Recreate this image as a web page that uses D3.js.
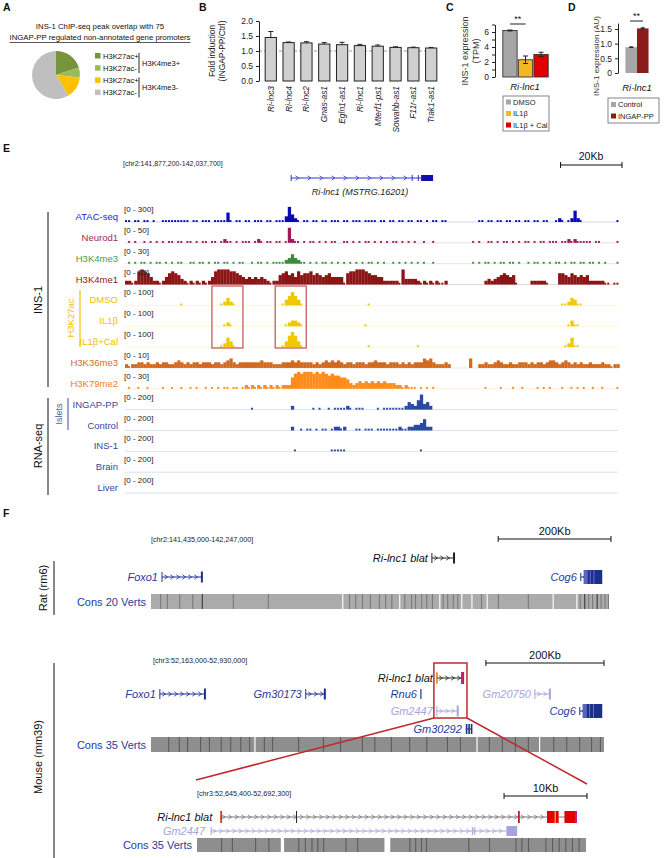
<!DOCTYPE html>
<html>
<head>
<meta charset="utf-8">
<script src="https://cdn.jsdelivr.net/npm/d3@7"></script>
<style>
  body { margin: 0; background: #fff; }
  svg { display: block; font-family: "Liberation Sans", Arial, sans-serif; }
</style>
</head>
<body>
<svg id="fig" width="664" height="858"></svg>
<script>
// ---------- data ----------
// A: promoter overlap (counts out of 75)
const pieClasses = ['H3K27ac+', 'H3K27ac-', 'H3K27ac+', 'H3K27ac-'];
const pieGroups = ['H3K4me3+', 'H3K4me3-'];
const pieCounts = [15, 5, 11, 44];

// B: fold induction
const genesB = ['Ri-lnc3', 'Ri-lnc4', 'Ri-lnc2', 'Gnas-as1', 'Egln1-as1', 'Ri-lnc1', 'Mterf1-ps1', 'Sowahb-as1', 'F11r-as1', 'Trak1-as1'];
const foldB = [1.45, 1.28, 1.27, 1.23, 1.21, 1.18, 1.16, 1.12, 1.11, 1.10];
const errB = [0.20, 0.02, 0.04, 0.05, 0.08, 0.04, 0.04, 0.02, 0.02, 0.02];

// C: TPM
const groupsC = ['DMSO', 'IL1β', 'IL1β + Cal'];
const tpmC = [6.2, 2.3, 3.0];
const errC = [0.06, 0.5, 0.3];

// D: AU
const groupsD = ['Control', 'INGAP-PP'];
const auD = [0.88, 1.52];
const errD = [0.01, 0.02];

// E: browser tracks, one digit per 1 kb bin (0-9 of track range)
const trackNames = ['ATAC-seq', 'Neurod1', 'H3K4me3', 'H3K4me1', 'DMSO', 'IL1β', 'IL1β+Cal', 'H3K36me3', 'H3K79me2', 'INGAP-PP', 'Control', 'INS-1', 'Brain', 'Liver'];
const trackMax = [300, 50, 30, 15, 100, 100, 100, 10, 30, 200, 200, 200, 200, 200];
const trackSignal = [
  '1101101101 0011111111 1011011101 1115101101 1011101101 1138421011 0110110111 0110111011 1101101101 1011011010 1101100000 0000011011 0110110110 1101101100 1210126210 00000000001',
  '0101001010 1010110110 1101011011 0121101011 1012101101 1018211010 1101010110 0110101011 0101010110 1010100100 1000000000 0001010011 0101101010 1101011011 1011212111 11011000001',
  '0101011010 1101010110 0110110101 1011010110 0101101011 1123532110 1010110101 0101010101 1010100101 0101010100 1000000000 0001010110 1011011010 0101101010 1101011011 01101010001',
  '2212787642 2124676532 1212121247 8888776543 4343432122 5675647566 7565456444 4167788876 5544222221 8333321212 1211200000 0000000232 3456545100 0022222100 0665465454 52222211011',
  '0000000000 0000000010 0000000000 0124210000 0000000000 0135753100 0000000000 0000000001 0000000000 0000000000 0000000000 0000000000 0000000000 0000000000 0011243110',
  '0000000000 0000000000 0000000000 0012100000 0000000000 0012332100 0000000000 0000000010 0000000000 0000000000 0000000000 0000000000 0000000000 0000000000 0000131100',
  '0000000000 0000000000 0000000000 0125310000 0000000000 0136863100 0000000000 0000000001 0000000000 0000010000 0000000000 0000000000 0000000000 0000000000 0001251100',
  '2122332322 3233223432 3233233323 3234532333 3333433322 2333434333 3232343434 3233233323 3433323332 3232333545 3222320000 0050022322 3432232233 3232332344 3234323232 23222322122',
  '0100100100 0010010010 0101001010 1011011012 1212121212 1222689899 9898987877 6653234343 4343433322 1211101010 1000000000 0000000100 0010001001 0000101010 0010010101 00100100001',
  '0000000000 0000000000 0000000000 0000000000 0100000000 0000200000 0101001011 1121011100 0010111111 1243258342',
  '0000000000 0000000000 0000000000 0000000000 0000000000 0000200101 1010110122 1200011011 1011111112 1122334622',
  '0000000000 0000000000 0000000000 0000000000 0000000000 0000010000 0000000111 1100000000 0000000000 0000001000',
  '',
  ''
];
const highlightKb = [[28.3, 38.4], [48.9, 59]];

// F: genes in kb from region start
const ratGenes = [
  {name: 'Ri-lnc1 blat', start: 498, end: 539, strand: 1, lane: 0, kind: 'blat'},
  {name: 'Foxo1', start: 19.5, end: 92, strand: 1, lane: 1, kind: 'ref'},
  {name: 'Cog6', start: 762, end: 800, strand: -1, lane: 1, kind: 'ref'}
];
const mouseGenes = [
  {name: 'Ri-lnc1 blat', start: 484, end: 530, strand: 1, lane: 0, kind: 'blat'},
  {name: 'Foxo1', start: 15, end: 93, strand: 1, lane: 1, kind: 'ref'},
  {name: 'Gm30173', start: 262, end: 296, strand: 1, lane: 1, kind: 'ref'},
  {name: 'Rnu6', start: 457, end: 458, strand: 1, lane: 1, kind: 'ref'},
  {name: 'Gm20750', start: 650, end: 677, strand: 1, lane: 1, kind: 'pred'},
  {name: 'Gm2447', start: 484, end: 521, strand: 1, lane: 2, kind: 'pred'},
  {name: 'Cog6', start: 726, end: 764, strand: -1, lane: 2, kind: 'ref'},
  {name: 'Gm30292', start: 533, end: 543, strand: 1, lane: 3, kind: 'ref'}
];
const ratConsGaps = [340, 441, 512, 551, 569, 596, 713, 755];
const ratConsMarks = [16, 28, 50, 73, 90, 145, 207, 351, 362, 374, 388, 404, 415, 426, 449, 461, 468, 479, 488, 498, 517, 525, 535, 543, 585, 615, 668, 760, 768, 775, 782, 790, 797, 804, 810];
const ratConsDark = [90, 768, 790];
const mouseConsGaps = [176, 552, 658];
const mouseConsMarks = [29, 47, 61, 83, 98, 118, 134, 151, 166, 191, 205, 249, 291, 320, 357, 378, 406, 437, 466, 501, 523, 572, 594, 616, 638, 681, 703, 725, 745, 760];
const zoomConsGaps = [[10.1, 10.5], [22.6, 23.3]];
const zoomConsMarks = [2.9, 4.2, 7, 8.6, 12.2, 13, 13.8, 14.5, 15.2, 17.9, 19.3, 25.6, 26.3, 27, 27.6, 32.7, 35.2, 38.4, 39.1, 39.9, 42, 42.8, 43.6, 44.4, 45.2, 46];

// ---------- helpers ----------
const svg = d3.select('#fig');

function txt(g, x, y, s, o = {}) {
  return g.append('text')
    .attr('x', x).attr('y', y)
    .attr('font-size', o.size || 9)
    .attr('text-anchor', o.anchor || 'start')
    .attr('fill', o.color || '#111')
    .attr('font-style', o.italic ? 'italic' : null)
    .attr('font-weight', o.bold ? 'bold' : null)
    .text(s);
}
function vtxt(g, x, y, s, o = {}) {
  return g.append('text')
    .attr('transform', `translate(${x},${y}) rotate(-90)`)
    .attr('font-size', o.size || 9)
    .attr('text-anchor', o.anchor || 'middle')
    .attr('fill', o.color || '#111')
    .attr('font-style', o.italic ? 'italic' : null)
    .text(s);
}
function styleAxis(a, size) {
  a.selectAll('text').attr('font-size', size).attr('fill', '#222');
  a.selectAll('line,path').attr('stroke', '#222');
}
function chevrons(g, x1, x2, y, dir, color, step) {
  for (let x = x1 + step / 2; x < x2 - 1; x += step) {
    const d = dir * 1.6;
    g.append('path')
      .attr('d', `M${x - d},${y - 2.2}L${x + d},${y}L${x - d},${y + 2.2}`)
      .attr('fill', 'none').attr('stroke', color).attr('stroke-width', 0.8);
  }
}

// panel letters
[['A', 3, 11], ['B', 199, 11], ['C', 446, 11], ['D', 568, 11], ['E', 3, 152], ['F', 3, 517]]
  .forEach(([l, x, y]) => txt(svg, x, y, l, {size: 10.5, bold: true}));

// ---------- A ----------
const gA = svg.append('g');
txt(gA, 100, 29, 'INS-1 ChIP-seq peak overlap with 75', {size: 7.8, anchor: 'middle'});
const t2 = txt(gA, 100, 40, 'INGAP-PP regulated non-annotated gene promoters', {size: 7.8, anchor: 'middle'});
const tw = t2.node().getComputedTextLength();
gA.append('line').attr('x1', 100 - tw / 2).attr('x2', 100 + tw / 2).attr('y1', 42.5).attr('y2', 42.5)
  .attr('stroke', '#111').attr('stroke-width', 0.7);

const pieColors = ['#77933c', '#9bbb59', '#ffc000', '#bfbfbf'];
const arcs = d3.pie().sort(null)(pieCounts);
gA.append('g').attr('transform', 'translate(56,75)')
  .selectAll('path').data(arcs).join('path')
  .attr('d', d3.arc().innerRadius(0).outerRadius(24))
  .attr('fill', (d, i) => pieColors[i]);

pieClasses.forEach((c, i) => {
  const y = 56 + i * 12.2;
  gA.append('rect').attr('x', 95).attr('y', y - 3).attr('width', 5.5).attr('height', 5.5).attr('fill', pieColors[i]);
  txt(gA, 103, y + 2.8, c, {size: 7.6});
});
pieGroups.forEach((gname, i) => {
  const y0 = 53 + i * 24.4;
  gA.append('line').attr('x1', 139).attr('x2', 139).attr('y1', y0).attr('y2', y0 + 20)
    .attr('stroke', '#111').attr('stroke-width', 0.9);
  txt(gA, 142, y0 + 12.5, gname, {size: 7.6});
});

// ---------- B ----------
const gB = svg.append('g');
const xB = d3.scaleBand().domain(genesB).range([262.5, 439.5]).paddingInner(0.37).paddingOuter(0.15);
const yB = d3.scaleLinear().domain([0, 2]).range([81, 21]);
gB.append('line').attr('x1', 259).attr('x2', 439).attr('y1', yB(1)).attr('y2', yB(1))
  .attr('stroke', '#9a9a9a').attr('stroke-dasharray', '3,2');
gB.selectAll('rect.bar').data(genesB).join('rect')
  .attr('x', d => xB(d)).attr('width', xB.bandwidth())
  .attr('y', (d, i) => yB(foldB[i])).attr('height', (d, i) => yB(0) - yB(foldB[i]))
  .attr('fill', '#d0d0d0').attr('stroke', '#222').attr('stroke-width', 1);
genesB.forEach((d, i) => {
  const cx = xB(d) + xB.bandwidth() / 2;
  gB.append('line').attr('x1', cx).attr('x2', cx).attr('y1', yB(foldB[i])).attr('y2', yB(foldB[i] + errB[i])).attr('stroke', '#222');
  gB.append('line').attr('x1', cx - 2.5).attr('x2', cx + 2.5).attr('y1', yB(foldB[i] + errB[i])).attr('y2', yB(foldB[i] + errB[i])).attr('stroke', '#222');
  gB.append('text').attr('transform', `translate(${cx + 3},86) rotate(-90)`)
    .attr('text-anchor', 'end').attr('font-size', 8.4).attr('font-style', 'italic').attr('fill', '#222').text(d);
});
const axB = gB.append('g').attr('transform', 'translate(259,0)')
  .call(d3.axisLeft(yB).tickValues([0, 0.5, 1, 1.5, 2]).tickFormat(d3.format('.1f')).tickSize(3).tickSizeOuter(0));
styleAxis(axB, 8.5);
vtxt(gB, 215, 51, 'Fold induction', {size: 8.4});
vtxt(gB, 225, 51, '(INGAP-PP/Ctrl)', {size: 8.4});

// ---------- C ----------
const gC = svg.append('g');
const xC = d3.scaleBand().domain(groupsC).range([502.5, 548.5]).paddingInner(0.08).paddingOuter(0.02);
const yC = d3.scaleLinear().domain([0, 7]).range([77, 24.5]);
const colC = ['#a6a6a6', '#f2b824', '#e00000'];
gC.selectAll('rect.bar').data(groupsC).join('rect')
  .attr('x', d => xC(d)).attr('width', xC.bandwidth())
  .attr('y', (d, i) => yC(tpmC[i])).attr('height', (d, i) => yC(0) - yC(tpmC[i]))
  .attr('fill', (d, i) => colC[i]).attr('stroke', '#333').attr('stroke-width', 0.9);
groupsC.forEach((d, i) => {
  const cx = xC(d) + xC.bandwidth() / 2;
  const lo = yC(tpmC[i] - errC[i]), hi = yC(tpmC[i] + errC[i]);
  gC.append('line').attr('x1', cx).attr('x2', cx).attr('y1', lo).attr('y2', hi).attr('stroke', '#222');
  [lo, hi].forEach(y => gC.append('line').attr('x1', cx - 2.5).attr('x2', cx + 2.5).attr('y1', y).attr('y2', y).attr('stroke', '#222'));
});
const axC = gC.append('g').attr('transform', 'translate(495,0)')
  .call(d3.axisLeft(yC).tickValues(d3.range(0, 8)).tickFormat(d => d % 2 === 0 ? d : '').tickSize(3).tickSizeOuter(0));
styleAxis(axC, 8.5);
const sigC = [xC(groupsC[0]) + xC.bandwidth() / 2, xC(groupsC[1]) + xC.bandwidth() / 2];
gC.append('line').attr('x1', sigC[0]).attr('x2', sigC[1]).attr('y1', 24).attr('y2', 24).attr('stroke', '#222');
txt(gC, (sigC[0] + sigC[1]) / 2, 22, '**', {size: 9, anchor: 'middle'});
txt(gC, 525, 90, 'Ri-lnc1', {size: 9.5, italic: true, anchor: 'middle'});
vtxt(gC, 468, 51, 'INS-1 expression', {size: 9, color: '#333'});
vtxt(gC, 479, 51, '(TPM)', {size: 9, color: '#333'});
gC.append('rect').attr('x', 503).attr('y', 96).attr('width', 46).attr('height', 35)
  .attr('fill', '#fff').attr('stroke', '#666').attr('stroke-width', 0.8);
groupsC.forEach((d, i) => {
  const y = 102 + i * 11.5;
  gC.append('rect').attr('x', 506).attr('y', y - 2.5).attr('width', 5).attr('height', 5).attr('fill', colC[i]);
  txt(gC, 513, y + 2.7, d, {size: 7.5, color: '#222'});
});

// ---------- D ----------
const gD = svg.append('g');
const xD = d3.scaleBand().domain(groupsD).range([625, 649]).paddingInner(0).paddingOuter(0.04);
const yD = d3.scaleLinear().domain([0, 1.7]).range([73, 23.1]);
const colD = ['#a6a6a6', '#8b1c1c'];
gD.selectAll('rect.bar').data(groupsD).join('rect')
  .attr('x', d => xD(d)).attr('width', xD.bandwidth())
  .attr('y', (d, i) => yD(auD[i])).attr('height', (d, i) => yD(0) - yD(auD[i]))
  .attr('fill', (d, i) => colD[i]);
groupsD.forEach((d, i) => {
  const cx = xD(d) + xD.bandwidth() / 2;
  const lo = yD(auD[i] - errD[i]), hi = yD(auD[i] + errD[i]);
  gD.append('line').attr('x1', cx).attr('x2', cx).attr('y1', lo).attr('y2', hi).attr('stroke', '#222');
  [lo, hi].forEach(y => gD.append('line').attr('x1', cx - 2).attr('x2', cx + 2).attr('y1', y).attr('y2', y).attr('stroke', '#222'));
});
const axD = gD.append('g').attr('transform', 'translate(618,0)')
  .call(d3.axisLeft(yD).tickValues([0, 0.5, 1, 1.5]).tickFormat(d => d === 0 ? '0' : d3.format('.1f')(d)).tickSize(3).tickSizeOuter(0));
styleAxis(axD, 8.5);
gD.append('line').attr('x1', 630).attr('x2', 643).attr('y1', 21).attr('y2', 21).attr('stroke', '#222');
txt(gD, 636.5, 19, '**', {size: 9, anchor: 'middle'});
txt(gD, 637, 91, 'Ri-lnc1', {size: 9.5, italic: true, anchor: 'middle'});
vtxt(gD, 599, 56, 'INS-1 expression (AU)', {size: 8, color: '#333'});
gD.append('rect').attr('x', 608).attr('y', 98).attr('width', 51).attr('height', 25)
  .attr('fill', '#fff').attr('stroke', '#666').attr('stroke-width', 0.8);
groupsD.forEach((d, i) => {
  const y = 104.5 + i * 11.5;
  gD.append('rect').attr('x', 611).attr('y', y - 2.5).attr('width', 5).attr('height', 5).attr('fill', colD[i]);
  txt(gD, 618, y + 2.7, d, {size: 7.5, color: '#222'});
});

// ---------- E ----------
const gE = svg.append('g');
const xE = d3.scaleLinear().domain([0, 160.5]).range([125, 618]);
txt(gE, 123, 166, '[chr2:141,877,200-142,037,700]', {size: 7, color: '#222'});
txt(gE, 591, 160, '20Kb', {size: 10.5, anchor: 'middle', color: '#111'});
{
  const x2 = 622, x1 = x2 - (xE(20) - xE(0));
  gE.append('line').attr('x1', x1).attr('x2', x2).attr('y1', 165).attr('y2', 165).attr('stroke', '#111').attr('stroke-width', 1.2);
  [x1, x2].forEach(x => gE.append('line').attr('x1', x).attr('x2', x).attr('y1', 162).attr('y2', 168).attr('stroke', '#111'));
}
// gene model
{
  const c = '#3232c8', y = 178;
  gE.append('line').attr('x1', xE(54.1)).attr('x2', xE(96.4)).attr('y1', y).attr('y2', y).attr('stroke', c);
  chevrons(gE, xE(54.1), xE(93.5), y, 1, c, 12);
  [54.1, 93.5, 95.5].forEach(k => gE.append('line').attr('x1', xE(k)).attr('x2', xE(k)).attr('y1', y - 3).attr('y2', y + 3).attr('stroke', c));
  gE.append('rect').attr('x', xE(96.4)).attr('y', y - 3).attr('width', xE(100.3) - xE(96.4)).attr('height', 6).attr('fill', '#1010b0');
  txt(gE, 360, 195, 'Ri-lnc1 (MSTRG.16201)', {size: 9, italic: true, anchor: 'middle', color: '#222'});
}

const trackColors = ['#0a0ab4', '#a0195a', '#3c8c3c', '#8c1414', '#f0c800', '#f0c800', '#f0c800', '#d2691e', '#ff8c1a', '#2a4aa0', '#2a4aa0', '#2a4aa0', '#2a4aa0', '#2a4aa0'];
const labelColors = ['#2424c8', '#a02a62', '#4a9a4a', '#8c1a1a', '#f0c000', '#f0c000', '#f0c000', '#d86a20', '#f08020', '#3348a0', '#3348a0', '#3348a0', '#3348a0', '#3348a0'];
const trackGap = 20.85, firstBase = 222, trackH = 17;

trackNames.forEach((name, ti) => {
  const base = firstBase + ti * trackGap;
  const yT = d3.scaleLinear().domain([0, trackMax[ti]]).range([0, trackH]);
  const bins = trackSignal[ti].replace(/ /g, '').padEnd(161, '0').split('').map(ch => +ch / 9 * trackMax[ti]);
  const g = gE.append('g');
  g.append('line').attr('x1', xE(0)).attr('x2', xE(160.5)).attr('y1', base).attr('y2', base)
    .attr('stroke', trackColors[ti]).attr('stroke-opacity', 0.22).attr('stroke-width', 0.8);
  g.selectAll('rect').data(bins.map((v, k) => ({v, k})).filter(d => d.v > 0)).join('rect')
    .attr('x', d => xE(d.k))
    .attr('width', d => d.v < trackMax[ti] * 0.15 ? 2 : xE(d.k + 1) - xE(d.k) + 0.2)
    .attr('y', d => base - Math.max(yT(d.v), 1.4))
    .attr('height', d => Math.max(yT(d.v), 1.4))
    .attr('fill', trackColors[ti]);
  txt(g, 118, base - 2, name, {size: 9.5, anchor: 'end', color: labelColors[ti]});
  txt(g, 124, base - 10, `[0 - ${trackMax[ti]}]`, {size: 8, color: '#222'});
});

// highlight boxes over the H3K27ac tracks
highlightKb.forEach(([a, b]) => {
  gE.append('rect').attr('x', xE(a)).attr('y', 286).attr('width', xE(b) - xE(a)).attr('height', 62)
    .attr('fill', 'none').attr('stroke', '#c0504d').attr('stroke-width', 1.2);
});

// group labels
gE.append('line').attr('x1', 48).attr('x2', 48).attr('y1', 212).attr('y2', 387).attr('stroke', '#111');
vtxt(gE, 42, 300, 'INS-1', {size: 11});
gE.append('line').attr('x1', 80).attr('x2', 80).attr('y1', 290).attr('y2', 347).attr('stroke', '#f0c000').attr('stroke-width', 1.2);
vtxt(gE, 74, 318, 'H3K27ac', {size: 9.5, color: '#f0c000'});
gE.append('line').attr('x1', 48).attr('x2', 48).attr('y1', 398).attr('y2', 495).attr('stroke', '#111');
vtxt(gE, 42, 446, 'RNA-seq', {size: 11});
gE.append('line').attr('x1', 68).attr('x2', 68).attr('y1', 398).attr('y2', 430).attr('stroke', '#5a6ab0').attr('stroke-width', 1.2);
vtxt(gE, 62, 414, 'Islets', {size: 9, color: '#4458aa'});

// ---------- F ----------
const gF = svg.append('g');
const blue = '#1c2f8f', pale = '#a5a5dc';

function scaleBar(g, x2, y, len, label) {
  const x1 = x2 - len;
  g.append('line').attr('x1', x1).attr('x2', x2).attr('y1', y).attr('y2', y).attr('stroke', '#111').attr('stroke-width', 1.2);
  [x1, x2].forEach(x => g.append('line').attr('x1', x).attr('x2', x).attr('y1', y - 3).attr('y2', y + 3).attr('stroke', '#111'));
  txt(g, (x1 + x2) / 2, y - 4, label, {size: 11, anchor: 'middle'});
}

function drawGene(g, sx, d, y) {
  const color = d.kind === 'blat' ? '#222' : d.kind === 'pred' ? pale : blue;
  const labelColor = d.kind === 'blat' ? '#111' : d.kind === 'pred' ? pale : '#1f3aa0';
  const x1 = sx(d.start), x2 = sx(d.end);
  if (x2 - x1 > 3) {
    g.append('line').attr('x1', x1).attr('x2', x2).attr('y1', y).attr('y2', y).attr('stroke', color);
    chevrons(g, x1 + 1, x2 - (d.name === 'Cog6' ? 12 : 2), y, d.strand, color, 6);
  }
  if (d.name === 'Cog6') {
    const bx = x1 + 3;
    g.append('rect').attr('x', bx).attr('y', y - 7).attr('width', x2 - bx).attr('height', 14).attr('fill', blue);
    g.append('rect').attr('x', bx).attr('y', y - 7).attr('width', 4).attr('height', 14).attr('fill', '#5566bb');
    [0.35, 0.55].forEach(f => g.append('line').attr('x1', bx + f * (x2 - bx)).attr('x2', bx + f * (x2 - bx))
      .attr('y1', y - 7).attr('y2', y + 7).attr('stroke', '#8090d0').attr('stroke-width', 0.7));
    g.append('line').attr('x1', x1).attr('x2', x1).attr('y1', y - 4).attr('y2', y + 4).attr('stroke', blue);
  } else if (d.name === 'Gm30292') {
    [0, 2.5, 5].forEach(o => g.append('rect').attr('x', x1 + o).attr('y', y - 5).attr('width', 1.6).attr('height', 10).attr('fill', blue));
  } else if (d.name === 'Rnu6') {
    g.append('line').attr('x1', x1).attr('x2', x1).attr('y1', y - 5).attr('y2', y + 5).attr('stroke', blue).attr('stroke-width', 1.2);
  } else {
    g.append('line').attr('x1', x1).attr('x2', x1).attr('y1', y - 5).attr('y2', y + 5).attr('stroke', color).attr('stroke-width', 1);
    g.append('rect').attr('x', x2 - 2).attr('y', y - 5.5).attr('width', 2).attr('height', 11).attr('fill', color);
  }
  txt(g, x1 - 4, y + 4, d.name, {size: 11, italic: true, anchor: 'end', color: labelColor});
}

function consTrack(g, sx, domain, gaps, marks, dark, y, h, base, markColor) {
  const edges = [domain[0]].concat(gaps.flatMap(gp => Array.isArray(gp) ? gp : [gp - 1, gp + 1])).concat([domain[1]]);
  for (let i = 0; i < edges.length; i += 2) {
    g.append('rect').attr('x', sx(edges[i])).attr('y', y).attr('width', sx(edges[i + 1]) - sx(edges[i])).attr('height', h).attr('fill', base);
  }
  g.selectAll(null).data(marks).join('rect')
    .attr('x', d => sx(d)).attr('y', y).attr('width', 1.1).attr('height', h)
    .attr('fill', d => dark.includes(d) ? '#3a3a3a' : markColor);
}

// rat
const ratX = d3.scaleLinear().domain([0, 812]).range([151, 609]);
txt(gF, 151, 542, '[chr2:141,435,000-142,247,000]', {size: 7.2, color: '#222'});
scaleBar(gF, 611, 539, ratX(200) - ratX(0), '200Kb');
const ratLanes = [558, 577];
ratGenes.forEach(d => drawGene(gF, ratX, d, ratLanes[d.lane]));
consTrack(gF, ratX, [0, 812], ratConsGaps, ratConsMarks, ratConsDark, 594, 15, '#ababab', '#7a7a7a');
txt(gF, 146, 606, 'Cons 20 Verts', {size: 11, anchor: 'end', color: '#1f3aa0'});
gF.append('line').attr('x1', 54).attr('x2', 54).attr('y1', 561).attr('y2', 615).attr('stroke', '#111');
vtxt(gF, 47, 588, 'Rat (rm6)', {size: 11});

// mouse
const mouseX = d3.scaleLinear().domain([0, 767]).range([151, 604]);
txt(gF, 153, 663, '[chr3:52,163,000-52,930,000]', {size: 7.2, color: '#222'});
scaleBar(gF, 604, 663, mouseX(200) - mouseX(0), '200Kb');
const mouseLanes = [678, 694, 711, 729];
mouseGenes.forEach(d => drawGene(gF, mouseX, d, mouseLanes[d.lane]));
// blat exon colours on the mouse hit
gF.append('line').attr('x1', mouseX(484)).attr('x2', mouseX(484)).attr('y1', 672).attr('y2', 684).attr('stroke', '#f0a020').attr('stroke-width', 1.2);
gF.append('rect').attr('x', mouseX(525)).attr('y', 672).attr('width', 3).attr('height', 12).attr('fill', '#c0206a');
consTrack(gF, mouseX, [0, 767], mouseConsGaps, mouseConsMarks, [], 737, 15, '#8e8e8e', '#5c5c5c');
txt(gF, 146, 749, 'Cons 35 Verts', {size: 11, anchor: 'end', color: '#1f3aa0'});

// zoom box and guide lines
const red = '#c0282d';
gF.append('rect').attr('x', mouseX(479)).attr('y', 663).attr('width', mouseX(535) - mouseX(479)).attr('height', 55)
  .attr('fill', 'none').attr('stroke', red).attr('stroke-width', 1.5);
gF.append('line').attr('x1', mouseX(479)).attr('y1', 718).attr('x2', 196).attr('y2', 780).attr('stroke', red).attr('stroke-width', 1.5);
gF.append('line').attr('x1', mouseX(535)).attr('y1', 718).attr('x2', 587).attr('y2', 784).attr('stroke', red).attr('stroke-width', 1.5);

// zoomed mouse region
const zoomX = d3.scaleLinear().domain([0, 46.9]).range([197, 586]);
txt(gF, 197, 796, '[chr3:52,645,400-52,692,300]', {size: 7.2, color: '#222'});
scaleBar(gF, 587, 796, zoomX(10) - zoomX(0), '10Kb');
{
  const y = 817;
  gF.append('line').attr('x1', zoomX(2.8)).attr('x2', zoomX(45.8)).attr('y1', y).attr('y2', y).attr('stroke', '#777');
  chevrons(gF, zoomX(2.8), zoomX(42), y, 1, '#777', 6.5);
  gF.append('rect').attr('x', zoomX(2.8)).attr('y', y - 6).attr('width', 1.8).attr('height', 12).attr('fill', '#d04020');
  gF.append('line').attr('x1', zoomX(12)).attr('x2', zoomX(12)).attr('y1', y - 6).attr('y2', y + 6).attr('stroke', '#222');
  gF.append('rect').attr('x', zoomX(38.7)).attr('y', y - 6).attr('width', 1.8).attr('height', 12).attr('fill', '#b02020');
  gF.append('rect').attr('x', zoomX(42.2)).attr('y', y - 6).attr('width', zoomX(43.6) - zoomX(42.2)).attr('height', 12).attr('fill', '#e00000');
  gF.append('rect').attr('x', zoomX(43.1)).attr('y', y - 6).attr('width', 1.5).attr('height', 12).attr('fill', '#f0a020');
  gF.append('rect').attr('x', zoomX(44.3)).attr('y', y - 6).attr('width', zoomX(45.8) - zoomX(44.3)).attr('height', 12).attr('fill', '#e00000');
  gF.append('rect').attr('x', zoomX(45.6)).attr('y', y - 6).attr('width', 1.5).attr('height', 12).attr('fill', '#c020c0');
  txt(gF, zoomX(2.8) - 8, y + 4, 'Ri-lnc1 blat', {size: 11, italic: true, anchor: 'end'});
}
{
  const y = 831;
  gF.append('line').attr('x1', zoomX(1.7)).attr('x2', zoomX(37.3)).attr('y1', y).attr('y2', y).attr('stroke', pale);
  chevrons(gF, zoomX(1.7), zoomX(37.3), y, 1, pale, 6.5);
  gF.append('line').attr('x1', zoomX(1.7)).attr('x2', zoomX(1.7)).attr('y1', y - 4).attr('y2', y + 4).attr('stroke', pale);
  [33.2, 33.5].forEach(k => gF.append('line').attr('x1', zoomX(k)).attr('x2', zoomX(k)).attr('y1', y - 4).attr('y2', y + 4).attr('stroke', pale));
  gF.append('rect').attr('x', zoomX(37.3)).attr('y', y - 5).attr('width', zoomX(38.6) - zoomX(37.3)).attr('height', 10).attr('fill', pale);
  txt(gF, zoomX(1.7) - 6, y + 4, 'Gm2447', {size: 11, italic: true, anchor: 'end', color: pale});
}
consTrack(gF, zoomX, [0, 46.9], zoomConsGaps, zoomConsMarks, [], 838, 14, '#8e8e8e', '#5c5c5c');
txt(gF, 192, 849, 'Cons 35 Verts', {size: 11, anchor: 'end', color: '#1f3aa0'});

gF.append('line').attr('x1', 54).attr('x2', 54).attr('y1', 663).attr('y2', 858).attr('stroke', '#111');
vtxt(gF, 42, 757, 'Mouse (mm39)', {size: 11});
</script>
</body>
</html>
